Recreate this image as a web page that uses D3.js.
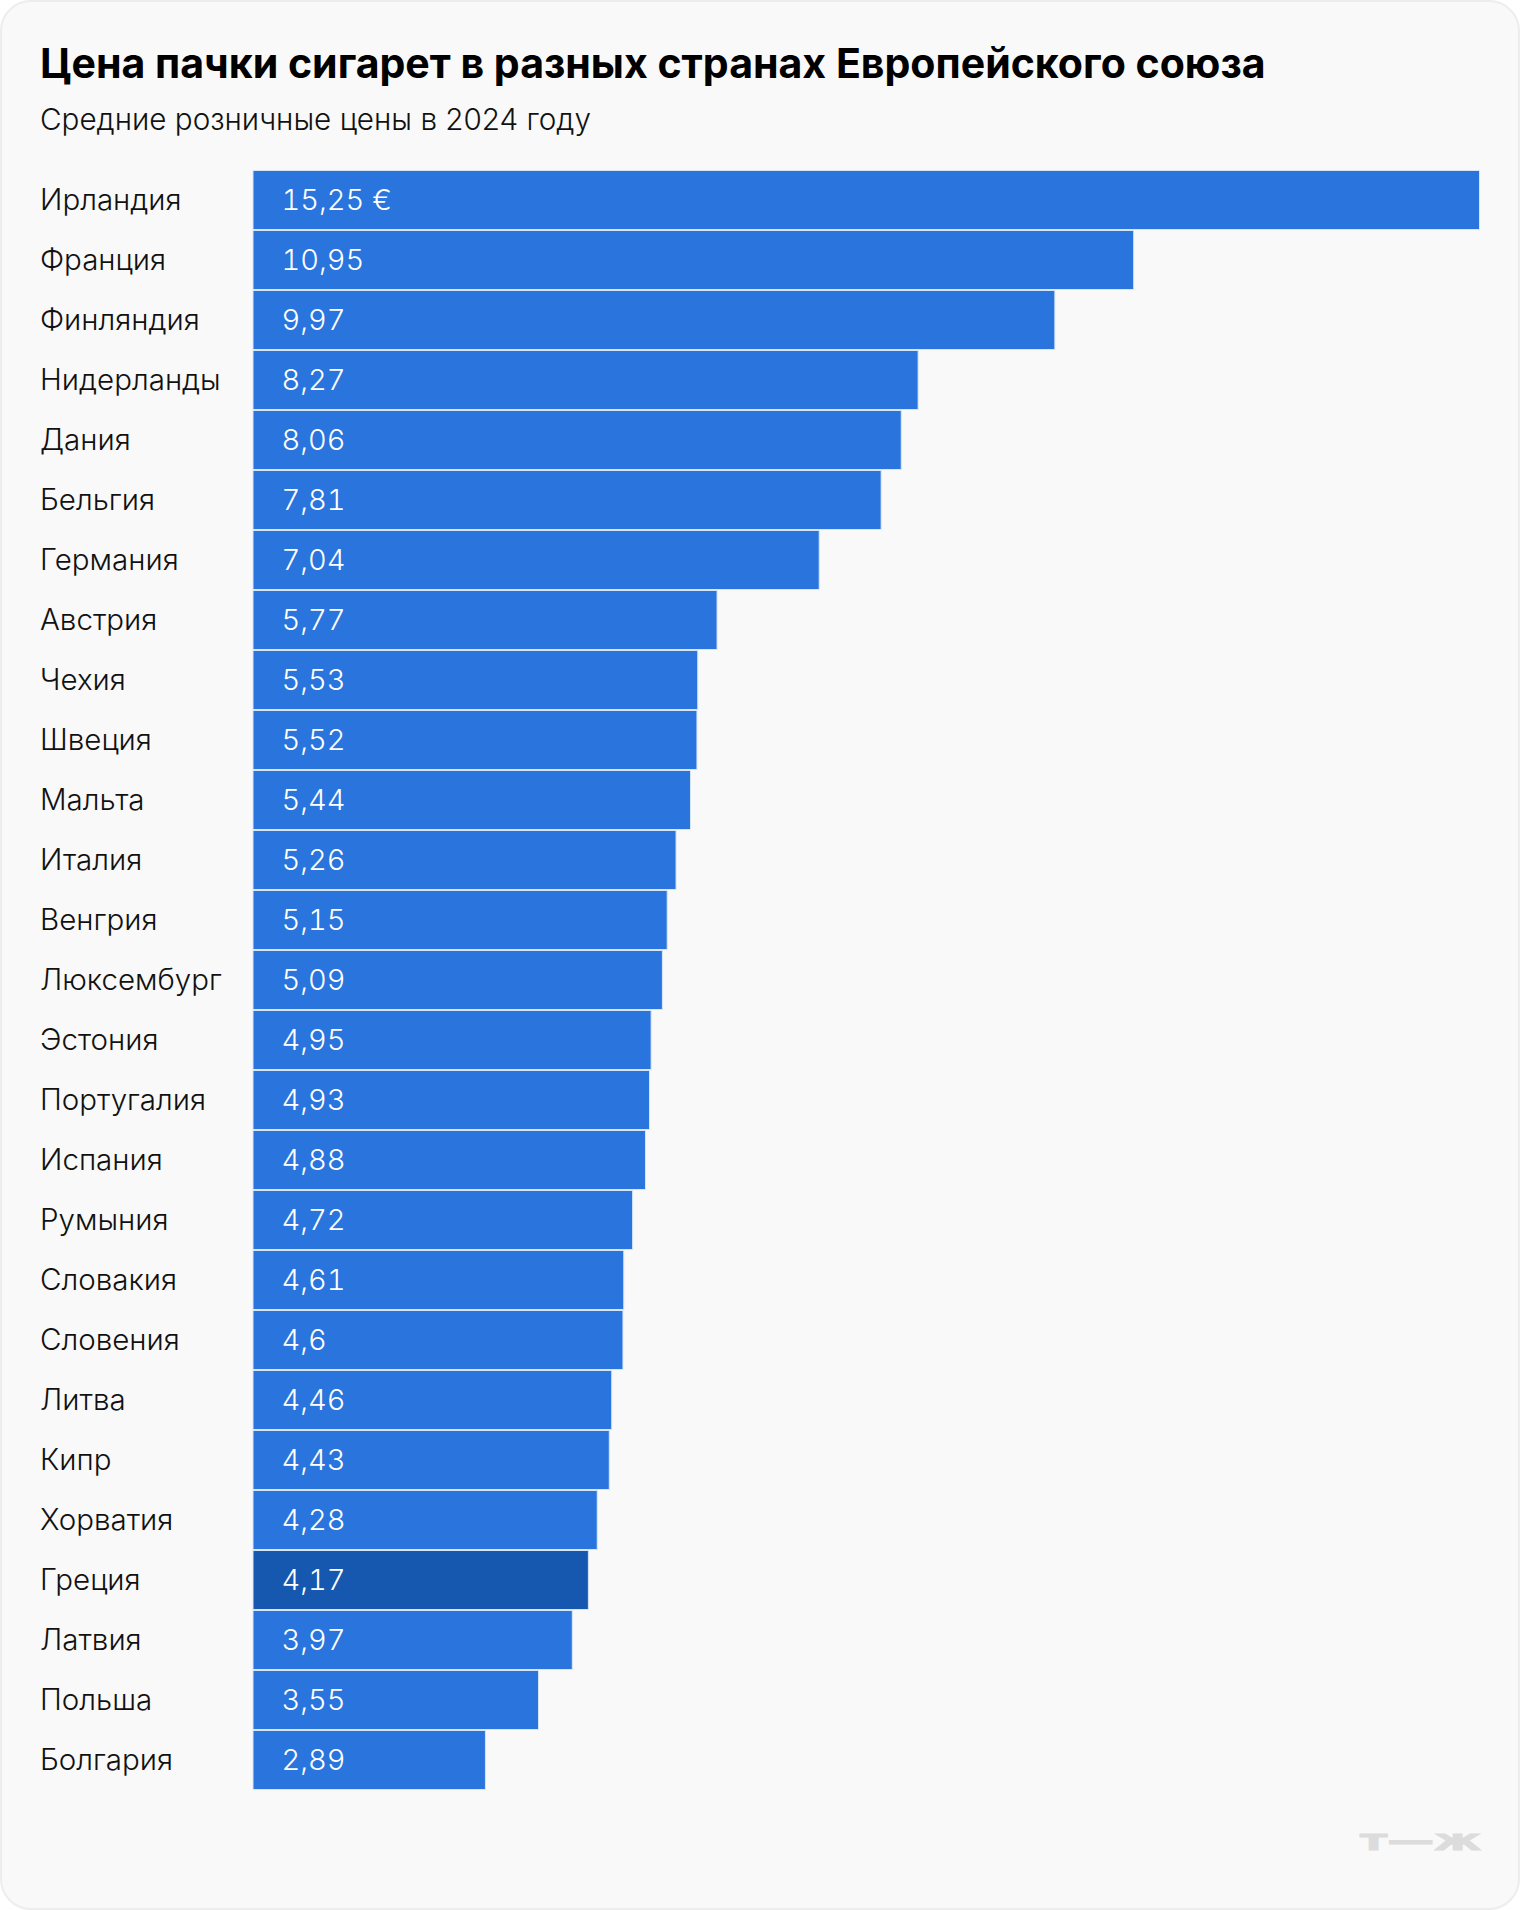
<!DOCTYPE html>
<html lang="ru"><head><meta charset="utf-8">
<style>html,body{margin:0;padding:0;background:#fff}svg{display:block}text{font-family:Inter,"Noto Sans",sans-serif}</style>
<script src="https://d3js.org/d3.v7.min.js"></script></head>
<body><div id="c"></div>
<script>
const titleText="Цена пачки сигарет в разных странах Европейского союза";
const subtitleText="Средние розничные цены в 2024 году";
const countries=["Ирландия","Франция","Финляндия","Нидерланды","Дания","Бельгия","Германия","Австрия","Чехия","Швеция","Мальта","Италия","Венгрия","Люксембург","Эстония","Португалия","Испания","Румыния","Словакия","Словения","Литва","Кипр","Хорватия","Греция","Латвия","Польша","Болгария"];
const prices=[15.25,10.95,9.97,8.27,8.06,7.81,7.04,5.77,5.53,5.52,5.44,5.26,5.15,5.09,4.95,4.93,4.88,4.72,4.61,4.6,4.46,4.43,4.28,4.17,3.97,3.55,2.89];
const labels=["15,25 €","10,95","9,97","8,27","8,06","7,81","7,04","5,77","5,53","5,52","5,44","5,26","5,15","5,09","4,95","4,93","4,88","4,72","4,61","4,6","4,46","4,43","4,28","4,17","3,97","3,55","2,89"];
const highlighted=["Греция"];
const W=1520,H=1910;
const svg=d3.select("#c").append("svg").attr("width",W).attr("height",H);
svg.append("rect").attr("x",1).attr("y",1).attr("width",W-2).attr("height",H-2).attr("rx",30).attr("fill","#f9f9f9").attr("stroke","#ededed").attr("stroke-width",2);
svg.append("text").attr("x",40).attr("y",78).attr("font-size",41.05).attr("font-weight",700).attr("fill","#000").text(titleText);
svg.append("text").attr("x",40).attr("y",130).attr("font-size",29.65).attr("font-weight",350).attr("fill","#111").text(subtitleText);
const x=d3.scaleLinear().domain([0,15.25]).range([253,1479.5]);
const y=d3.scaleBand().domain(countries).range([170,1790]).paddingInner(0).paddingOuter(0);
const row=svg.selectAll("g.row").data(countries).join("g").attr("class","row");
row.append("rect").attr("x",x(0)).attr("y",d=>y(d)+0.5).attr("height",y.bandwidth()-1)
 .attr("width",(d,i)=>x(prices[i])-x(0))
 .attr("fill",d=>highlighted.includes(d)?"#1658b0":"#2975dd").attr("stroke","#d8e5f8").attr("stroke-width",1);
row.append("text").attr("x",40).attr("y",d=>y(d)+y.bandwidth()/2+10).attr("font-size",29.5).attr("font-weight",350).attr("fill","#111").text(d=>d);
row.append("text").attr("x",281.5).attr("y",d=>y(d)+y.bandwidth()/2+10).attr("font-size",29).attr("font-weight",350).style("font-variant-numeric","tabular-nums").attr("fill","#fff").text((d,i)=>labels[i]);
svg.append("text").attr("transform","translate(1360,1850) scale(1.62,1)").attr("font-size",29).attr("font-weight",700).style("font-family","DejaVu Sans").attr("fill","#dcdcdc").attr("stroke","#dcdcdc").attr("stroke-width",1).text("т—ж");
</script></body></html>
